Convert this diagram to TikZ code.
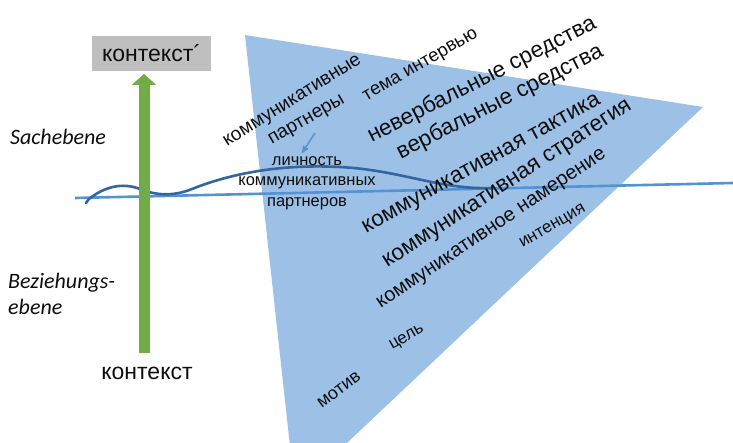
\documentclass[tikz,border=0pt]{standalone}
\usepackage{fontspec}
\setmainfont{Liberation Sans}
\newfontfamily\calibri{Carlito}
\usetikzlibrary{shapes,arrows,arrows.meta}

\definecolor{triblue}{RGB}{157,193,230}
\definecolor{lineblue}{RGB}{84,146,208}
\definecolor{waveblue}{RGB}{50,102,160}
\definecolor{bargreen}{RGB}{112,173,71}
\definecolor{boxgray}{RGB}{191,191,191}
\definecolor{ink}{RGB}{14,14,14}

\tikzstyle{invis} = [draw=none, inner sep=0pt]
\tikzstyle{big} = [invis, text=ink, font=\fontsize{22.5}{22.5}\selectfont]
\tikzstyle{mid} = [invis, text=ink, font=\fontsize{19}{19}\selectfont]
\tikzstyle{tiny} = [invis, text=ink, font=\fontsize{17}{17}\selectfont]
\tikzstyle{level} = [invis, text=ink, align=left, font=\calibri\itshape\fontsize{22}{26}\selectfont]

\begin{document}
\begin{tikzpicture}[x=1pt,y=-1pt,>=stealth']

    \useasboundingbox (0,0) rectangle (733,443);

    \begin{scope}
    \clip (0,0) rectangle (733,443);
    \fill[triblue] (245,35) -- (703,107) -- (295,492) -- cycle;
    \end{scope}

    %=====================

    \coordinate (l1) at (75,198);
    \coordinate (l2) at (733,183);
    \path
    (l1) edge [-, lineblue, line width=2.6] node {} (l2);

    \draw[waveblue, line width=2.6, line cap=round]
    (86,203) -- (89,199) .. controls (104,187) and (122,182) .. (140,189)
    .. controls (155,195) and (172,197) .. (192,189)
    .. controls (232,173) and (282,164) .. (340,167)
    .. controls (400,170) and (440,190) .. (492,188);

    %=====================

    \node[invis, fill=boxgray, minimum width=119, minimum height=35, text=ink,
      font=\fontsize{23}{23}\selectfont] at (151.5,53.5) (ctxtop) [] {контекст´};
    \node[invis, text=ink, font=\fontsize{23}{23}\selectfont] at (147,373) (ctx) [] {контекст};

    \coordinate (gs) at (144,353);
    \coordinate (ge) at (144,74);
    \path
    (gs) edge [-{Triangle[length=11pt,width=24pt]}, bargreen, line width=11] node {} (ge);

    \node[level] at (58,137) (sach) [] {Sachebene};
    \node[level, anchor=west] at (8,294) (bez) [] {Beziehungs-\\ebene};

    %=====================

    \node[mid, rotate=32] at (293,102) (kp) [] {коммуникативные};
    \node[mid, rotate=30] at (307,121) (partn) [] {партнеры};
    \node[mid, font=\fontsize{18.5}{18.5}\selectfont, rotate=30] at (421,66) (tema) [] {тема интервью};
    \node[big, rotate=27] at (482,80) (nonverb) [] {невербальные средства};
    \node[big, rotate=27] at (500,102) (verb) [] {вербальные средства};
    \node[big, rotate=29] at (482,165) (takt) [] {коммуникативная тактика};
    \node[big, rotate=33] at (508,185) (strat) [] {коммуникативная стратегия};
    \node[invis, text=ink, font=\fontsize{20}{20}\selectfont, rotate=34] at (492,230) (nam) [] {коммуникативное намерение};
    \node[tiny, rotate=30] at (553,227) (int) [] {интенция};
    \node[tiny, rotate=30] at (407,338) (cel) [] {цель};
    \node[mid, font=\fontsize{18}{18}\selectfont, rotate=37] at (339,390) (motiv) [] {мотив};

    \node[invis, text=ink, align=center, font=\fontsize{16.5}{20.5}\selectfont]
      at (307,183) (pers) [] {личность\\коммуникативных\\партнеров};

    \coordinate (pa) at (315,133);
    \coordinate (pb) at (302,153);
    \path
    (pa) edge [->, lineblue, line width=1.5] node {} (pb);

\end{tikzpicture}
\end{document}
